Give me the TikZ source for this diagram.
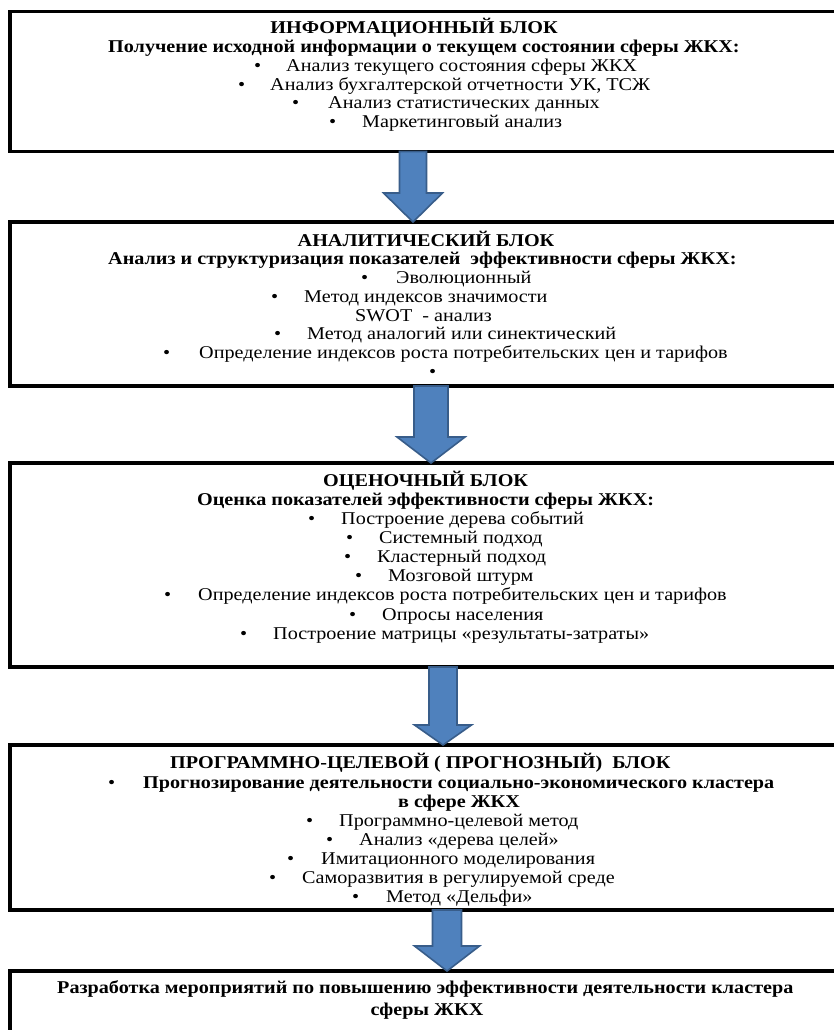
\documentclass[tikz,border=0pt]{standalone}
\usepackage{fontspec}
\setmainfont{Liberation Serif}[FakeStretch=1.12]
\usetikzlibrary{calc}
\definecolor{arrowfill}{HTML}{4F81BD}
\definecolor{arrowline}{HTML}{385D8A}
\tikzset{
  blk/.style={draw=black, line width=3.8pt, inner sep=0pt, outer sep=0pt, minimum width=890pt},
  txt/.style={anchor=base west, inner sep=0pt, font=\fontsize{18}{19}\selectfont},
  btxt/.style={anchor=base west, inner sep=0pt, font=\fontsize{18}{19}\selectfont\bfseries},
  ctitle/.style={anchor=base, inner sep=0pt, font=\fontsize{18}{19}\selectfont\bfseries},
  barrow/.style={fill=arrowfill, draw=arrowline, line width=1.6pt, line join=miter}
}
\newcommand\blockarrow[6]{%
  \coordinate (bac) at (#3,#6);
  \coordinate (bat) at (#3,0);
  \draw[barrow] ($(#1.south -| bat)+(-#4,0)$) -- ($(#1.south -| bat)+(#4,0)$)
    -- ($(bac)+(#4,0)$) -- ($(bac)+(#5,0)$) -- (#2.north -| bat)
    -- ($(bac)+(-#5,0)$) -- ($(bac)+(-#4,0)$) -- cycle;}
\begin{document}
\begin{tikzpicture}[x=1pt,y=-1pt]
\useasboundingbox (0,0) rectangle (834,1030);
\clip (0,0) rectangle (834,1030);
\fill[white] (0,0) rectangle (834,1030);
% boxes
\node[blk, minimum height=140pt] (b1) at (455,81.5) {};
\node[blk, minimum height=164pt] (b2) at (455,304) {};
\node[blk, minimum height=204pt] (b3) at (455,565) {};
\node[blk, minimum height=165pt] (b4) at (455,827.5) {};
\node[blk, minimum height=149pt] (b5) at (455,1045.5) {};
% arrows
\blockarrow{b1}{b2}{413}{13.5}{29.5}{193}
\blockarrow{b2}{b3}{431}{17}{34}{437}
\blockarrow{b3}{b4}{443}{14}{28.5}{725}
\blockarrow{b4}{b5}{447}{14.5}{32.5}{946}
% box 1 text
\node[ctitle] (t1) at (414,34) {ИНФОРМАЦИОННЫЙ БЛОК};
\node[btxt] (s1) at (108,53) {Получение исходной информации о текущем состоянии сферы ЖКХ:};
\node[txt] (p11) at (254,72) {•};  \node[txt] (q11) at (286,72) {Анализ текущего состояния сферы ЖКХ};
\node[txt] (p12) at (238,91) {•};  \node[txt] (q12) at (270,91) {Анализ бухгалтерской отчетности УК, ТСЖ};
\node[txt] (p13) at (292,109) {•}; \node[txt] (q13) at (328,109) {Анализ статистических данных};
\node[txt] (p14) at (329,128) {•}; \node[txt] (q14) at (362,128) {Маркетинговый анализ};
% box 2 text
\node[ctitle] (t2) at (426,246) {АНАЛИТИЧЕСКИЙ БЛОК};
\node[btxt] (s2) at (108,264) {Анализ и структуризация показателей \ эффективности сферы ЖКХ:};
\node[txt] (p21) at (361,283) {•}; \node[txt] (q21) at (396,283) {Эволюционный};
\node[txt] (p22) at (271,302) {•}; \node[txt] (q22) at (304,302) {Метод индексов значимости};
\node[txt] (q23) at (355,321) {SWOT \ - анализ};
\node[txt] (p24) at (274,339) {•}; \node[txt] (q24) at (307,339) {Метод аналогий или синектический};
\node[txt] (p25) at (163,358) {•}; \node[txt] (q25) at (199,358) {Определение индексов роста потребительских цен и тарифов};
\node[txt] (p26) at (429,377) {•};
% box 3 text
\node[btxt] (t3) at (323,486) {ОЦЕНОЧНЫЙ БЛОК};
\node[btxt] (s3) at (197,505) {Оценка показателей эффективности сферы ЖКХ:};
\node[txt] (p31) at (308,524) {•}; \node[txt] (q31) at (341,524) {Построение дерева событий};
\node[txt] (p32) at (346,543) {•}; \node[txt] (q32) at (379,543) {Системный подход};
\node[txt] (p33) at (344,562) {•}; \node[txt] (q33) at (377,562) {Кластерный подход};
\node[txt] (p34) at (355,581) {•}; \node[txt] (q34) at (388,581) {Мозговой штурм};
\node[txt] (p35) at (164,600) {•}; \node[txt] (q35) at (198,600) {Определение индексов роста потребительских цен и тарифов};
\node[txt] (p36) at (349,620) {•}; \node[txt] (q36) at (382,620) {Опросы населения};
\node[txt] (p37) at (240,639) {•}; \node[txt] (q37) at (273,639) {Построение матрицы «результаты-затраты»};
% box 4 text
\node[btxt] (t4) at (170,768) {ПРОГРАММНО-ЦЕЛЕВОЙ ( ПРОГНОЗНЫЙ) \ БЛОК};
\node[txt] (p41) at (108,788) {•}; \node[btxt] (q41) at (143,788) {Прогнозирование деятельности социально-экономического кластера};
\node[ctitle] (q41b) at (459,807) {в сфере ЖКХ};
\node[txt] (p42) at (306,826) {•}; \node[txt] (q42) at (339,826) {Программно-целевой метод};
\node[txt] (p43) at (326,845) {•}; \node[txt] (q43) at (359,845) {Анализ «дерева целей»};
\node[txt] (p44) at (287,864) {•}; \node[txt] (q44) at (321,864) {Имитационного моделирования};
\node[txt] (p45) at (269,883) {•}; \node[txt] (q45) at (302,883) {Саморазвития в регулируемой среде};
\node[txt] (p46) at (352,902) {•}; \node[txt] (q46) at (386,902) {Метод «Дельфи»};
% box 5 text
\node[btxt] (t5) at (57,993) {Разработка мероприятий по повышению эффективности деятельности кластера};
\node[ctitle] (t5b) at (427,1015) {сферы ЖКХ};
\end{tikzpicture}
\end{document}
